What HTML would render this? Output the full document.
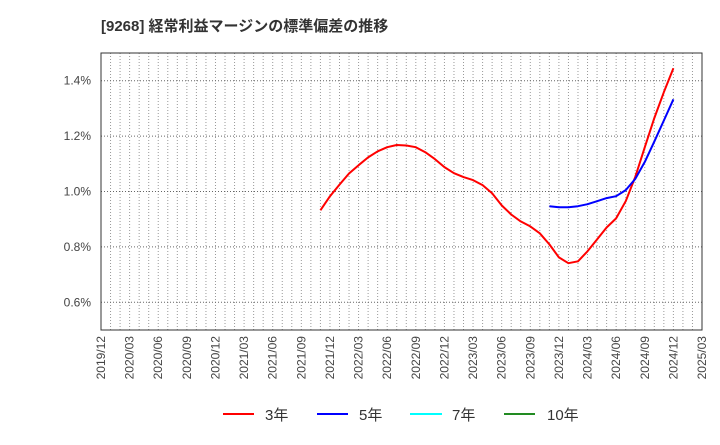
<!DOCTYPE html>
<html><head><meta charset="utf-8"><style>
body{margin:0;background:#fff;}
svg text{font-family:"Liberation Sans","Noto Sans CJK JP",sans-serif;}
</style></head><body>
<svg width="720" height="440" viewBox="0 0 720 440">
<text x="101" y="31" font-size="15" font-weight="bold" fill="#333">[9268] 経常利益マージンの標準偏差の推移</text>
<g id="grid"></g>
<rect x="101" y="53" width="601" height="277" fill="none" stroke="#333" stroke-width="1"/>
<g id="ylabels"></g>
<g id="xlabels"></g>
<g id="series"></g>
<g>
<line x1="223" y1="414" x2="254" y2="414" stroke="#f00" stroke-width="2"/>
<text x="265" y="420" font-size="15" fill="#333">3年</text>
<line x1="317" y1="414" x2="348" y2="414" stroke="#00f" stroke-width="2"/>
<text x="359" y="420" font-size="15" fill="#333">5年</text>
<line x1="410" y1="414" x2="442" y2="414" stroke="#0ff" stroke-width="2"/>
<text x="452" y="420" font-size="15" fill="#333">7年</text>
<line x1="504" y1="414" x2="535" y2="414" stroke="#228b22" stroke-width="2"/>
<text x="547" y="420" font-size="15" fill="#333">10年</text>
</g>
</svg>
<script>
const yTicks=[0.6,0.8,1.0,1.2,1.4];
const yTickLabels=["0.6%","0.8%","1.0%","1.2%","1.4%"];
const xTickLabels=["2019/12","2020/03","2020/06","2020/09","2020/12","2021/03","2021/06","2021/09","2021/12","2022/03","2022/06","2022/09","2022/12","2023/03","2023/06","2023/09","2023/12","2024/03","2024/06","2024/09","2024/12","2025/03"];
const red3Start=23; // months from 2019/12 (2021/11)
const red3=[0.932,0.983,1.025,1.065,1.095,1.123,1.145,1.16,1.168,1.166,1.16,1.142,1.117,1.088,1.066,1.052,1.041,1.023,0.994,0.95,0.917,0.892,0.874,0.849,0.809,0.762,0.741,0.748,0.784,0.827,0.87,0.903,0.965,1.052,1.16,1.265,1.358,1.445];
const blue5Start=47; // 2023/11
const blue5=[0.947,0.943,0.943,0.947,0.954,0.965,0.976,0.983,1.005,1.045,1.107,1.18,1.256,1.333];
const NS="http://www.w3.org/2000/svg";
const X0=101,X1=702,Y0=330,Y1=53,VMIN=0.5,VMAX=1.5,MONTHS=63;
function xs(m){return X0+(X1-X0)*m/MONTHS;}
function ys(v){return Y0-(Y0-Y1)*(v-VMIN)/(VMAX-VMIN);}
function mk(t,a,p){const e=document.createElementNS(NS,t);for(const k in a)e.setAttribute(k,a[k]);p.appendChild(e);return e;}
const grid=document.getElementById('grid');
for(let m=1;m<MONTHS;m++){
 const l=mk('line',{x1:xs(m),x2:xs(m),y1:Y1,y2:Y0,stroke:'#999','stroke-width':1,'stroke-dasharray':'1,2'},grid);
 
 
}
const yl=document.getElementById('ylabels');
yTicks.forEach((v,i)=>{
 const l=mk('line',{x1:X0,x2:X1,y1:ys(v),y2:ys(v),stroke:'#666','stroke-width':1,'stroke-dasharray':'1,2'},grid);
 
 
 const t=mk('text',{x:91,y:ys(v)+4,'text-anchor':'end','font-size':12,fill:'#444'},yl);
 t.textContent=yTickLabels[i];
 
 
});
const xl=document.getElementById('xlabels');
xTickLabels.forEach((s,i)=>{
 const x=xs(i*3)+4,y=336;
 const t=mk('text',{x:x,y:y,'text-anchor':'end','font-size':12,fill:'#444',transform:`rotate(-90 ${x} ${y})`},xl);
 t.textContent=s;
 
 
});
const sg=document.getElementById('series');
function line(arr,start,color,name){
 const pts=arr.map((v,i)=>xs(start+i).toFixed(1)+','+ys(v).toFixed(1)).join(' ');
 const p=mk('polyline',{points:pts,fill:'none',stroke:color,'stroke-width':2,'stroke-linejoin':'round'},sg);
 
 
}
line(red3,red3Start,'#f00','series-3y');
line(blue5,blue5Start,'#00f','series-5y');
</script>
</body></html>
